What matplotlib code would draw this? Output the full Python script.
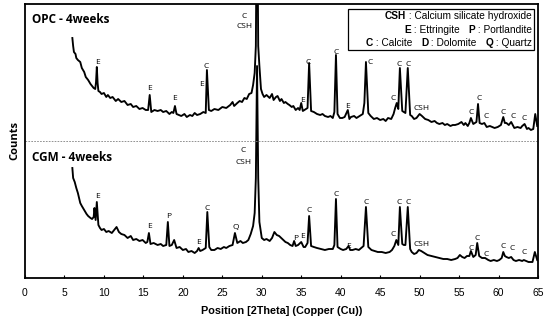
import matplotlib.pyplot as plt
from matplotlib.patches import Rectangle

# OPC - 4 weeks trace (2theta, counts in arbitrary units)
opc_2theta = [6.0, 6.1, 6.2, 6.4, 6.5, 6.7, 7.0, 7.2, 7.5, 7.7, 8.0, 8.3, 8.5, 8.7, 8.9, 9.0, 9.1, 9.2, 9.3,
              9.5, 9.7, 10.0, 10.3, 10.5, 10.8, 11.1, 11.5, 11.8, 12.2, 12.6, 13.0, 13.4, 13.7, 14.1, 14.5,
              14.9, 15.3, 15.6, 15.8, 16.0, 16.4, 16.8, 17.2, 17.5, 17.9, 18.3, 18.6, 18.8, 19.0, 19.2, 19.5,
              19.8, 20.2, 20.5, 20.9, 21.2, 21.5, 21.8, 22.2, 22.6, 22.9, 23.05, 23.3, 23.6, 24.0, 24.5,
              25.0, 25.5, 26.0, 26.3, 26.5, 26.9, 27.2, 27.5, 27.8, 28.1, 28.4, 28.7, 28.9, 29.1, 29.25,
              29.4, 29.55, 29.7, 29.9, 30.1, 30.3, 30.6, 31.0, 31.3, 31.5, 31.8, 32.0, 32.3, 32.5, 32.8,
              33.0, 33.3, 33.5, 33.8, 34.0, 34.3, 34.6, 34.8, 35.0, 35.2, 35.4, 35.8, 36.0, 36.25, 36.6,
              37.0, 37.4, 37.7, 38.0, 38.4, 38.7, 39.0, 39.2, 39.4, 39.6, 39.9, 40.2, 40.5, 40.9, 41.1,
              41.3, 41.7, 42.0, 42.4, 42.8, 43.0, 43.2, 43.5, 43.8, 44.2, 44.6, 45.0, 45.4, 45.7, 46.0,
              46.4, 46.7, 46.9, 47.1, 47.3, 47.5, 47.8, 48.0, 48.2, 48.5, 48.8, 49.0, 49.3, 49.6, 50.0,
              50.3, 50.7, 51.1, 51.5, 51.9, 52.2, 52.5, 52.9, 53.2, 53.5, 53.9, 54.2, 54.5, 54.9, 55.3,
              55.6, 55.8, 56.1, 56.3, 56.5, 56.8, 57.0, 57.2, 57.4, 57.6, 57.9, 58.2, 58.5, 58.9, 59.2,
              59.5, 59.9, 60.3, 60.6, 60.8, 61.0, 61.3, 61.6, 62.0, 62.4, 62.8, 63.0, 63.3, 63.6, 63.8,
              64.1, 64.4, 64.65, 64.9]
opc_counts = [240, 232, 226, 224, 220, 218, 216, 210, 206, 201, 198, 194, 192, 190, 189, 196, 211, 195, 187,
              186, 184, 185, 181, 183, 180, 181, 177, 179, 176, 177, 173, 174, 171, 172, 169,
              170, 168, 168, 183, 166, 168, 167, 168, 166, 167, 164, 166, 165, 172, 164, 163,
              162, 164, 161, 163, 162, 165, 163, 164, 166, 165, 208, 168, 167, 169, 168,
              171, 170, 173, 176, 172, 175, 177, 176, 180, 179, 184, 185, 193, 205, 232,
              400, 232, 212, 189, 184, 181, 183, 180, 184, 178, 181, 182, 177, 179, 175,
              176, 174, 173, 171, 172, 168, 170, 168, 175, 167, 168, 170, 215, 167, 166,
              164, 163, 164, 162, 161, 162, 160, 166, 223, 164, 160, 160, 161, 168, 159,
              161, 162, 160, 162, 164, 175, 216, 165, 162, 159, 160, 158, 159, 157, 160,
              159, 164, 170, 175, 169, 210, 167, 166, 165, 210, 163, 162, 159, 160, 164,
              162, 159, 158, 156, 157, 155, 154, 155, 153, 154, 152, 153, 153, 154, 156,
              153, 155, 152, 155, 160, 154, 155, 156, 174, 155, 154, 155, 151, 152, 151,
              150, 151, 153, 161, 155, 155, 153, 156, 150, 151, 150, 152, 154, 149, 150,
              148, 149, 164, 152]

# CGM - 4 weeks trace
cgm_2theta = [6.0, 6.1, 6.3, 6.5, 6.7, 7.0, 7.2, 7.5, 7.8, 8.0, 8.3, 8.5, 8.7, 8.8, 8.95, 9.1, 9.3, 9.5,
              9.7, 10.0, 10.3, 10.6, 11.0, 11.3, 11.6, 11.9, 12.2, 12.6, 13.0, 13.4, 13.7, 14.1, 14.5,
              14.9, 15.3, 15.5, 15.7, 15.9, 16.3, 16.8, 17.2, 17.5, 17.9, 18.1, 18.3, 18.6, 18.9, 19.2,
              19.6, 20.0, 20.4, 20.7, 21.1, 21.5, 21.8, 22.0, 22.2, 22.5, 22.9, 23.1, 23.35, 23.6, 24.0,
              24.4, 24.8, 25.2, 25.5, 25.9, 26.3, 26.6, 26.9, 27.3, 27.6, 28.0, 28.3, 28.6, 28.9, 29.1,
              29.25, 29.4, 29.55, 29.7, 30.0, 30.3, 30.6, 31.0, 31.3, 31.6, 31.9, 32.2, 32.6, 33.0, 33.3,
              33.6, 33.9, 34.1, 34.3, 34.6, 35.0, 35.3, 35.5, 35.8, 36.0, 36.25, 36.6, 37.0, 37.5, 38.0,
              38.5, 39.0, 39.2, 39.4, 39.6, 40.0, 40.3, 40.7, 41.0, 41.2, 41.5, 41.9, 42.3, 42.6, 42.9,
              43.2, 43.5, 43.9, 44.3, 44.7, 45.2, 45.7, 46.2, 46.5, 46.8, 47.05, 47.3, 47.5, 47.8, 48.0,
              48.2, 48.5, 48.8, 49.0, 49.3, 49.6, 49.9, 50.2, 50.6, 51.0, 51.5, 52.0, 52.5, 53.0, 53.5,
              54.0, 54.5, 54.8, 55.1, 55.4, 55.7, 56.0, 56.3, 56.5, 56.8, 57.1, 57.3, 57.55, 57.9, 58.3,
              58.7, 59.0, 59.4, 59.8, 60.1, 60.4, 60.6, 60.8, 61.0, 61.3, 61.6, 61.9, 62.2, 62.6, 63.0,
              63.2, 63.5, 63.8, 64.1, 64.3, 64.6, 64.9]
cgm_counts = [110, 100, 96, 90, 85, 75, 72, 68, 64, 62, 60, 59, 61, 70, 58, 76, 53, 50,
              48, 49, 46, 47, 45, 48, 51, 46, 44, 43, 40, 42, 38, 39, 37,
              38, 35, 36, 45, 34, 35, 33, 34, 32, 33, 56, 32, 33, 38, 30,
              31, 28, 29, 26, 27, 25, 27, 30, 27, 28, 30, 66, 31, 28, 28,
              30, 29, 31, 30, 32, 33, 45, 35, 37, 35, 36, 38, 44, 52, 65,
              100, 212, 100, 56, 40, 38, 39, 37, 40, 46, 43, 42, 39, 36, 35,
              33, 32, 37, 32, 33, 36, 31, 31, 35, 62, 32, 31, 30, 29, 28,
              29, 29, 33, 79, 31, 29, 28, 29, 32, 28, 28, 29, 28, 30, 32,
              71, 31, 28, 27, 26, 26, 25, 26, 28, 32, 38, 33, 71, 34, 33,
              33, 71, 29, 26, 24, 25, 28, 27, 25, 23, 22, 21, 20, 19, 19,
              18, 19, 20, 23, 21, 20, 22, 22, 27, 21, 23, 35, 22, 20, 20,
              18, 17, 18, 17, 18, 20, 26, 22, 21, 20, 21, 18, 17, 18, 17,
              18, 17, 16, 16, 16, 26, 18]

# peak labels (2theta, height, text)
opc_labels = [(9.2, 216, "E"), (15.8, 190, "E"), (18.9, 179, "E"), (22.4, 193, "E"), (23.0, 212, "C"),
              (35.1, 178, "E"), (35.9, 215, "C"), (39.4, 226, "C"), (40.9, 171, "E"), (43.7, 216, "C"),
              (46.7, 180, "C"), (47.4, 213, "C"), (48.6, 213, "C"), (50.2, 170, "CSH"), (56.5, 165, "C"),
              (57.5, 180, "C"), (58.4, 161, "C"), (60.6, 165, "C"), (61.8, 161, "C"), (63.3, 159, "C")]
cgm_labels = [(9.2, 81, "E"), (15.8, 51, "E"), (18.2, 61, "P"), (22.0, 36, "E"), (23.1, 70, "C"),
              (26.7, 50, "Q"), (34.3, 39, "P"), (35.1, 41, "E"), (36.0, 67, "C"), (39.4, 84, "C"),
              (41.0, 32, "E"), (43.2, 75, "C"), (46.6, 44, "C"), (47.4, 76, "C"), (48.6, 76, "C"),
              (50.2, 34, "CSH"), (56.5, 30, "C"), (57.3, 40, "C"), (58.4, 24, "C"), (60.6, 31, "C"),
              (61.7, 29, "C"), (63.2, 25, "C")]

xticks = list(range(0, 70, 5))

fig = plt.figure(figsize=(5.5, 3.21), dpi=100)
ax = fig.add_axes([25 / 550, 43 / 321, 513 / 550, 274 / 321])

ax.plot(cgm_2theta, cgm_counts, color="black", lw=1.35)
ax.plot(opc_2theta, opc_counts, color="black", lw=1.35)
ax.axhline(137, color="#808080", lw=0.6, ls=(0, (2, 1.5)))

lab_font = dict(family="Open Sans", fontsize=6, ha="center", va="center")
for x, y, t in opc_labels + cgm_labels:
    ax.text(x, y, t, **lab_font)
ax.text(27.8, 262, "C", **lab_font)
ax.text(27.8, 251, "CSH", **lab_font)
ax.text(27.7, 127, "C", **lab_font)
ax.text(27.7, 116, "CSH", **lab_font)

ax.text(0.013, 0.945, "OPC - 4weeks", transform=ax.transAxes, family="Open Sans",
        fontweight="bold", fontsize=8.5, va="center")
ax.text(0.013, 0.44, "CGM - 4weeks", transform=ax.transAxes, family="Open Sans",
        fontweight="bold", fontsize=8.5, va="center")

# legend box
ax.add_patch(Rectangle((0.630, 0.832), 0.362, 0.150, transform=ax.transAxes,
                       fill=False, ec="black", lw=0.9, zorder=5))
legend_rows = [
    (0.956, [("CSH", True), (" : Calcium silicate hydroxide", False)]),
    (0.905, [("E", True), (" : Ettringite   ", False), ("P", True), (" : Portlandite", False)]),
    (0.858, [("C", True), (" : Calcite   ", False), ("D", True), (" : Dolomite   ", False),
             ("Q", True), (" : Quartz", False)]),
]
for y, parts in legend_rows:
    prev = None
    for text, bold in reversed(parts):
        kw = dict(family="Liberation Sans", fontsize=7.3, fontweight="bold" if bold else "normal",
                  ha="right", va="center")
        if prev is None:
            prev = ax.text(0.988, y, text, transform=ax.transAxes, **kw)
        else:
            prev = ax.annotate(text, xy=(0, 0.5), xycoords=prev, **kw)

ax.set_xlim(0, 65)
ax.set_ylim(0, 274)
ax.set_xticks(xticks)
ax.set_yticks([])
ax.tick_params(axis="x", direction="in", length=2.5, width=0.8, pad=7, labelsize=7.5)
for lbl in ax.get_xticklabels():
    lbl.set_family("Liberation Sans")
for s in ax.spines.values():
    s.set_linewidth(1.3)

ax.set_xlabel("Position [2Theta] (Copper (Cu))", family="Liberation Sans", fontweight="bold",
              fontsize=7.8, labelpad=6)
ax.set_ylabel("Counts", family="Open Sans", fontweight="bold", fontsize=8, labelpad=3)

fig.savefig("out.png", dpi=100)
